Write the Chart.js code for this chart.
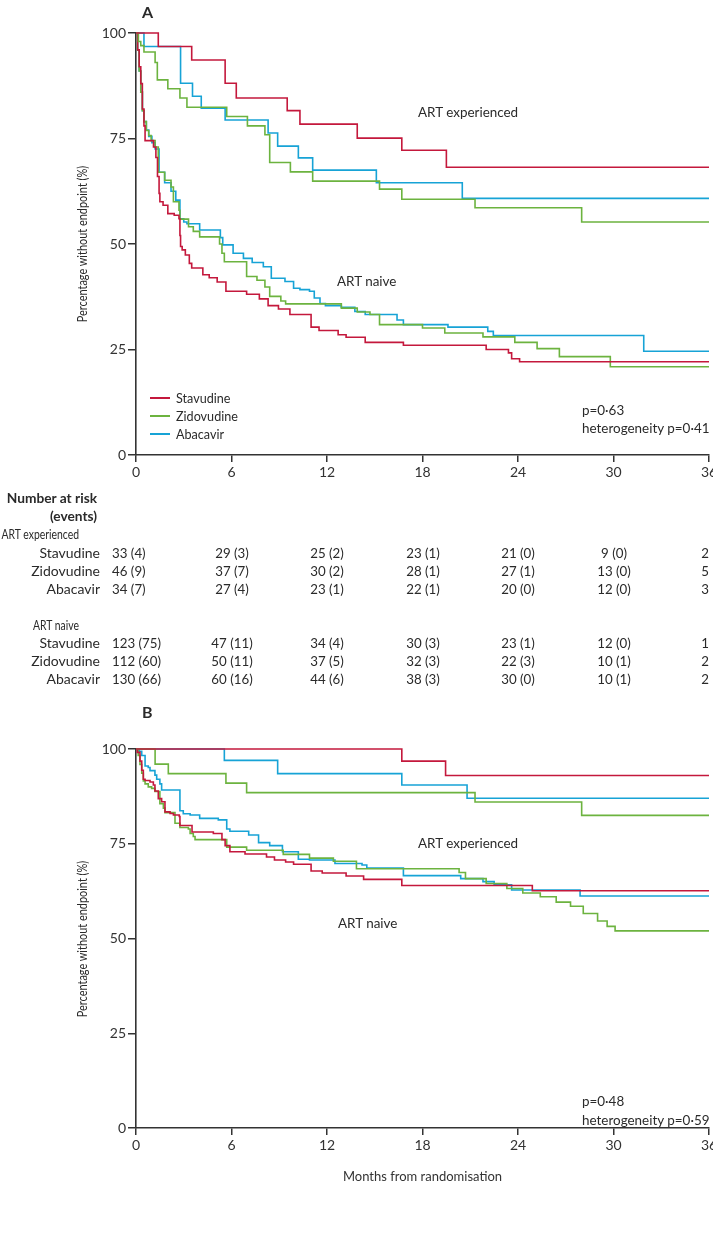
<!DOCTYPE html>
<html>
<head>
<meta charset="utf-8">
<script src="https://cdn.jsdelivr.net/npm/chart.js@4.4.1/dist/chart.umd.min.js"></script>
<style>
html,body{margin:0;padding:0;background:#fff;}
#page{position:relative;width:713px;height:1233px;overflow:hidden;background:#fff;}
canvas{position:absolute;left:0;}
.t{position:absolute;white-space:nowrap;line-height:1;color:#2a2a2a;}
.leg{position:absolute;height:0;border-top:2px solid #000;}
</style>
</head>
<body>
<div id="page">
  <canvas id="cA" width="713" height="490" style="top:0px;width:713px;height:490px"></canvas>
  <canvas id="cB" width="713" height="533" style="top:700px;width:713px;height:533px"></canvas>
</div>
<script>
// ---------------- DATA ----------------
const months = [0, 6, 12, 18, 24, 30, 36];
const yTickValues = [0, 25, 50, 75, 100];
const drugs = ['Stavudine', 'Zidovudine', 'Abacavir'];
const colors = ['#c4183c', '#6cb33f', '#17a3d6'];

// Panel A, ART experienced (time in months, % without endpoint)
const aExpStavT = [0, 1.4, 3.5, 5.6, 6.3, 9.5, 10.3, 13.9, 16.7, 19.5, 36];
const aExpStavS = [100, 96.8, 93.6, 88.1, 84.6, 81.6, 78.4, 75.1, 72.2, 68.2, 68.2];
const aExpZidoT = [0, 0.15, 0.3, 0.5, 1.2, 1.34, 2.0, 2.76, 3.2, 5.7, 7.0, 8.1, 8.4, 9.7, 11.1, 15.3, 16.7, 21.3, 28.0, 36];
const aExpZidoS = [100, 98, 97, 95.5, 93, 88.9, 86.8, 84.6, 82.4, 80.2, 78.0, 75.9, 69.3, 67.1, 64.9, 63.0, 60.6, 58.6, 55.2, 55.2];
const aExpAbacT = [0, 0.5, 2.8, 3.55, 4.1, 5.6, 8.3, 8.9, 10.2, 11.1, 15.1, 20.5, 36];
const aExpAbacS = [100, 96.8, 88.1, 85.0, 82.2, 79.4, 76.3, 73.2, 70.4, 67.5, 64.5, 60.8, 60.8];

// Panel A, ART naive
const aNaiStavT = [0, 0.1, 0.2, 0.3, 0.4, 0.5, 0.57, 1.1, 1.25, 1.35, 1.45, 1.5, 1.7, 2.0, 2.4, 2.7, 2.76, 2.8, 2.9, 3.1, 3.35, 3.5, 4.2, 4.6, 5.1, 5.65, 6.95, 7.75, 8.3, 8.95, 9.67, 11.0, 11.5, 12.7, 13.2, 14.4, 16.8, 22.0, 23.4, 23.6, 24.1, 36];
const aNaiStavS = [100, 96, 92, 88, 82, 78, 74.5, 73, 70.5, 66, 62, 60, 59.2, 57.2, 56.8, 56.0, 52, 49.4, 48.6, 47.4, 45.4, 44.3, 42.7, 42.0, 41.0, 38.8, 38.1, 37.0, 35.4, 34.6, 33.3, 30.3, 29.5, 28.5, 27.9, 26.7, 26.0, 25.0, 24.2, 22.8, 22.1, 22.1];
const aNaiZidoT = [0, 0.1, 0.2, 0.3, 0.4, 0.5, 0.65, 0.8, 0.95, 1.2, 1.4, 1.8, 2.2, 2.35, 2.7, 2.76, 3.3, 3.6, 4.0, 5.25, 5.4, 5.55, 6.95, 7.6, 8.1, 8.4, 9.1, 9.4, 12.9, 13.9, 14.7, 15.3, 18.0, 19.4, 21.8, 23.8, 25.2, 26.6, 29.8, 36];
const aNaiZidoS = [100, 96, 91, 86, 81.6, 79, 76.9, 75.7, 74.5, 73, 67, 65.1, 63.5, 60, 58, 55.9, 54.1, 53, 51.7, 50, 47.8, 45.8, 42.3, 41.4, 39.8, 37.6, 36.5, 35.8, 34.8, 33.9, 33.3, 30.9, 30.1, 28.9, 28.0, 26.7, 25.2, 23.3, 20.9, 20.9];
const aNaiAbacT = [0, 0.1, 0.2, 0.3, 0.4, 0.5, 0.65, 0.8, 1.0, 1.2, 1.45, 1.8, 2.2, 2.5, 2.76, 3.0, 3.2, 4.0, 5.3, 5.45, 6.1, 6.75, 7.3, 8.0, 8.5, 9.36, 9.9, 10.3, 10.9, 11.2, 11.56, 11.9, 12.9, 13.75, 14.4, 16.4, 16.8, 19.6, 22.1, 22.45, 31.9, 36];
const aNaiAbacS = [100, 96, 91, 86, 81.6, 79, 77, 75.5, 74, 72.5, 67, 64.5, 62.5, 60.4, 56, 55.2, 54.8, 53.3, 51.5, 49.8, 47.8, 46.6, 45.6, 44.6, 41.9, 41.1, 39.5, 39.2, 38.8, 37.2, 35.9, 35.4, 35.0, 34.0, 33.3, 32.0, 30.9, 30.3, 29.3, 28.3, 24.6, 24.6];

// Panel B, ART experienced
const bExpStavT = [0, 16.7, 19.45, 36];
const bExpStavS = [100, 96.8, 93, 93];
const bExpZidoT = [0, 1.2, 2.03, 5.65, 6.95, 21.3, 28.0, 36];
const bExpZidoS = [100, 96, 93.5, 91, 88.5, 86, 82.5, 82.5];
const bExpAbacT = [0, 5.55, 8.9, 16.7, 20.8, 36];
const bExpAbacS = [100, 97, 93.5, 90.5, 87, 87];

// Panel B, ART naive
const bNaiStavT = [0, 0.08, 0.25, 0.36, 0.46, 0.57, 0.88, 1.09, 1.19, 1.4, 1.61, 1.82, 2.14, 2.35, 2.72, 2.76, 3.52, 4.86, 5.4, 5.6, 5.9, 6.85, 8.2, 8.7, 9.4, 9.9, 11.0, 11.7, 13.2, 14.3, 16.7, 24.9, 36];
const bNaiStavS = [100, 99.1, 96.8, 94.4, 92, 91.7, 91.3, 90.5, 88.9, 86.9, 86.1, 83.4, 83.0, 82.6, 82.2, 79.8, 78.1, 77.7, 76.1, 74.5, 72.9, 72.3, 71.5, 70.7, 70.2, 69.6, 67.8, 67.3, 66.5, 65.6, 64.0, 62.6, 62.6];
const bNaiZidoT = [0, 0.14, 0.25, 0.36, 0.46, 0.57, 0.77, 0.98, 1.19, 1.5, 1.72, 1.82, 2.45, 2.76, 3.29, 3.4, 3.6, 3.71, 5.7, 6.95, 9.25, 10.9, 12.4, 13.85, 20.3, 20.7, 22.0, 23.3, 24.3, 25.4, 26.4, 27.3, 28.1, 29.0, 29.6, 30.1, 36];
const bNaiZidoS = [100, 98.3, 95.9, 93.6, 91.6, 90.8, 90, 89.6, 88.8, 85.6, 84.4, 83.2, 80.4, 79.3, 78.9, 77.7, 76.9, 76.1, 74.1, 73.3, 72.2, 71.2, 70.4, 68.4, 67.4, 65.8, 64.5, 63.2, 62.0, 61.0, 59.6, 58.5, 56.6, 54.6, 53.2, 52.0, 52.0];
const bNaiAbacT = [0, 0.2, 0.36, 0.57, 0.77, 0.88, 1.19, 1.3, 1.5, 1.61, 2.76, 2.97, 3.4, 4.0, 5.17, 5.7, 5.9, 7.08, 7.7, 8.4, 9.2, 10.2, 10.9, 12.5, 14.2, 14.5, 16.8, 20.4, 21.8, 22.5, 23.6, 27.9, 36];
const bNaiAbacS = [100, 99.4, 98.3, 95.5, 95.1, 94.3, 93.1, 92, 90.8, 89.2, 83.7, 82.9, 82.6, 81.7, 81.3, 78.9, 78.3, 77.3, 75.3, 74.5, 72.9, 70.9, 70.7, 69.8, 69.4, 68.6, 66.6, 65.8, 65.0, 64.2, 62.8, 61.2, 61.2];

// Numbers at risk (events)
const riskAExpStav = ['33 (4)', '29 (3)', '25 (2)', '23 (1)', '21 (0)', '9 (0)', '2'];
const riskAExpZido = ['46 (9)', '37 (7)', '30 (2)', '28 (1)', '27 (1)', '13 (0)', '5'];
const riskAExpAbac = ['34 (7)', '27 (4)', '23 (1)', '22 (1)', '20 (0)', '12 (0)', '3'];
const riskANaiStav = ['123 (75)', '47 (11)', '34 (4)', '30 (3)', '23 (1)', '12 (0)', '1'];
const riskANaiZido = ['112 (60)', '50 (11)', '37 (5)', '32 (3)', '22 (3)', '10 (1)', '2'];
const riskANaiAbac = ['130 (66)', '60 (16)', '44 (6)', '38 (3)', '30 (0)', '10 (1)', '2'];

// ---------------- RENDER ----------------
const FONT = 'Lato, "Open Sans", sans-serif';
const AXIS = '#333333';
const page = document.getElementById('page');

function km(T, S) { return T.map((t, i) => ({ x: t, y: S[i] })); }
function ds(T, S, c) {
  return { data: km(T, S), borderColor: c, borderWidth: 1.6, pointRadius: 0, stepped: 'before', fill: false, tension: 0, clip: 4 };
}
function txt(s, x, y, o) {
  o = o || {};
  const d = document.createElement('div');
  d.className = 't';
  d.textContent = s;
  d.style.left = x + 'px';
  d.style.top = y + 'px';
  d.style.fontFamily = FONT;
  d.style.fontSize = (o.size || 14) + 'px';
  if (o.bold) d.style.fontWeight = 'bold';
  const sx = o.sx || 1;
  if (o.rotate) {
    d.style.transformOrigin = '50% 50%';
    d.style.transform = 'translate(-50%,-50%) rotate(-90deg) scaleX(' + sx + ')';
  } else {
    const tx = o.align === 'right' ? '-100%' : (o.align === 'center' ? '-50%' : '0');
    const ox = o.align === 'right' ? '100%' : (o.align === 'center' ? '50%' : '0');
    d.style.transformOrigin = ox + ' 50%';
    d.style.transform = 'translate(' + tx + ',-50%) scaleX(' + sx + ')';
  }
  page.appendChild(d);
  return d;
}

function makeChart(id, datasets, area, canvasH, xTitle) {
  const xScaleH = canvasH - area.bottom;
  return new Chart(document.getElementById(id), {
    type: 'line',
    data: { datasets },
    options: {
      responsive: false, animation: false, devicePixelRatio: 1,
      layout: { padding: { top: area.top, left: 0, right: 713 - area.right, bottom: 0 } },
      plugins: { legend: { display: false }, tooltip: { enabled: false } },
      scales: {
        x: {
          type: 'linear', min: 0, max: 36,
          afterBuildTicks: (s) => { s.ticks = months.map(v => ({ value: v })); },
          ticks: { font: { family: FONT, size: 14 }, color: AXIS, padding: 2, maxRotation: 0, autoSkip: false },
          grid: { display: true, drawOnChartArea: false, drawTicks: true, tickLength: 7, color: AXIS, lineWidth: 1.5 },
          border: { display: true, color: AXIS, width: 1.6 },
          title: xTitle ? { display: true, text: xTitle, font: { family: FONT, size: 13 }, color: AXIS, padding: { top: 0, bottom: 48 } } : { display: false },
          afterFit: (s) => { s.height = xScaleH; s.paddingLeft = 0; s.paddingRight = 0; }
        },
        y: {
          type: 'linear', min: 0, max: 100,
          afterBuildTicks: (s) => { s.ticks = yTickValues.map(v => ({ value: v })); },
          ticks: { font: { family: FONT, size: 14 }, color: AXIS, padding: 2 },
          grid: { display: true, drawOnChartArea: false, drawTicks: true, tickLength: 8, color: AXIS, lineWidth: 1.5 },
          border: { display: true, color: AXIS, width: 1.6 },
          afterFit: (s) => { s.width = area.left; s.paddingTop = 0; s.paddingBottom = 0; }
        }
      }
    }
  });
}

const chartA = makeChart('cA', [
  ds(aExpStavT, aExpStavS, colors[0]), ds(aExpZidoT, aExpZidoS, colors[1]), ds(aExpAbacT, aExpAbacS, colors[2]),
  ds(aNaiStavT, aNaiStavS, colors[0]), ds(aNaiZidoT, aNaiZidoS, colors[1]), ds(aNaiAbacT, aNaiAbacS, colors[2])
], { left: 136, top: 33, right: 709, bottom: 455 }, 490, null);

const chartB = makeChart('cB', [
  ds(bExpStavT, bExpStavS, colors[0]), ds(bExpZidoT, bExpZidoS, colors[1]), ds(bExpAbacT, bExpAbacS, colors[2]),
  ds(bNaiStavT, bNaiStavS, colors[0]), ds(bNaiZidoT, bNaiZidoS, colors[1]), ds(bNaiAbacT, bNaiAbacS, colors[2])
], { left: 136, top: 49, right: 709, bottom: 428 }, 533, 'Months from randomisation');

// Y-axis titles (condensed, rotated)
txt('Percentage without endpoint (%)', 82, 244, { size: 13, sx: 0.84, rotate: true });
txt('Percentage without endpoint (%)', 82, 939, { size: 13, sx: 0.84, rotate: true });

// Panel letters
txt('A', 142, 12, { size: 16, bold: true });
txt('B', 142, 712, { size: 16, bold: true });

// In-plot labels
txt('ART experienced', 418, 112, { size: 14, sx: 0.96 });
txt('ART naive', 337, 281, { size: 14, sx: 0.96 });
txt('ART experienced', 418, 843, { size: 14, sx: 0.96 });
txt('ART naive', 338, 923, { size: 14, sx: 0.96 });

// Legend (panel A)
drugs.forEach((d, i) => {
  const y = 398 + i * 18;
  const l = document.createElement('div');
  l.className = 'leg';
  l.style.left = '150px'; l.style.width = '20px'; l.style.top = (y - 1) + 'px';
  l.style.borderTopColor = colors[i];
  page.appendChild(l);
  txt(d, 176, y, { size: 14, sx: 0.9 });
});

// p values
txt('p=0\u00b763', 582, 410, { size: 14, sx: 0.96 });
txt('heterogeneity p=0\u00b741', 582, 428, { size: 14, sx: 0.96 });
txt('p=0\u00b748', 582, 1101, { size: 14, sx: 0.96 });
txt('heterogeneity p=0\u00b759', 582, 1120, { size: 14, sx: 0.96 });

// Risk table
txt('Number at risk', 97, 498, { size: 14, bold: true, sx: 0.98, align: 'right' });
txt('(events)', 97, 516, { size: 14, bold: true, sx: 0.98, align: 'right' });
const tickX = months.map(m => chartA.scales.x.getPixelForValue(m));
function riskRow(label, vals, y) {
  txt(label, 100, y, { size: 14, sx: 1.0, align: 'right' });
  vals.forEach((v, i) => {
    if (i === 0) txt(v, 112, y, { size: 14, sx: 0.95 });
    else if (i === vals.length - 1) txt(v, 709, y, { size: 14, sx: 0.95, align: 'right' });
    else txt(v, tickX[i], y, { size: 14, sx: 0.95, align: 'center' });
  });
}
txt('ART experienced', 79, 534, { size: 13, sx: 0.8, align: 'right' });
riskRow(drugs[0], riskAExpStav, 553);
riskRow(drugs[1], riskAExpZido, 571);
riskRow(drugs[2], riskAExpAbac, 589);
txt('ART naive', 79, 625, { size: 13, sx: 0.8, align: 'right' });
riskRow(drugs[0], riskANaiStav, 643);
riskRow(drugs[1], riskANaiZido, 661);
riskRow(drugs[2], riskANaiAbac, 679);
</script>
</body>
</html>
